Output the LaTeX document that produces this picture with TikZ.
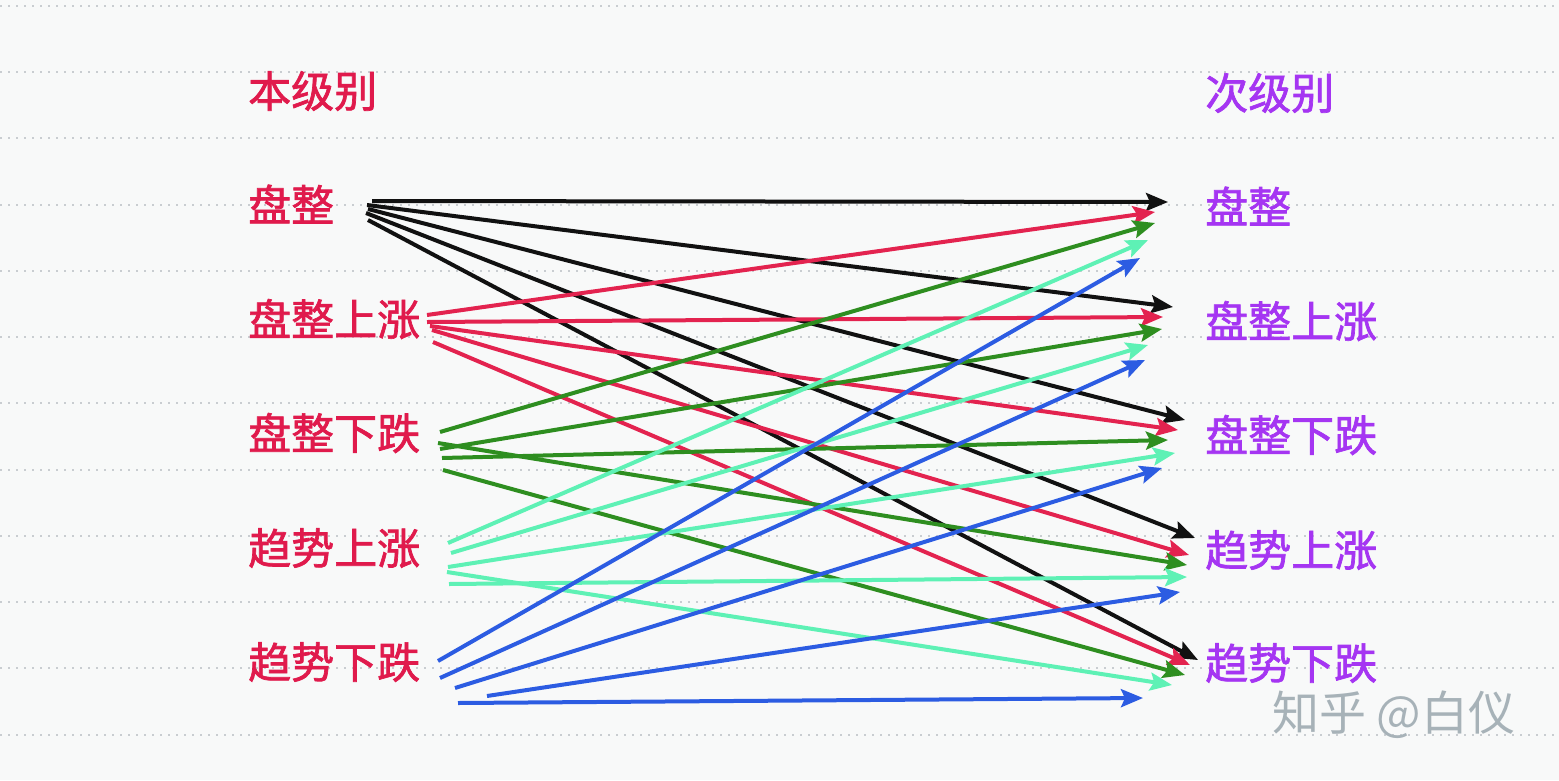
\documentclass[tikz,border=0pt]{standalone}
\usepackage{fontspec}
\setmainfont{Noto Sans CJK SC}
\newfontfamily\lblfont{Noto Sans CJK SC}[FakeBold=1.6]
\usetikzlibrary{arrows.meta}
\definecolor{bgc}{HTML}{F8F9F9}
\definecolor{dotc}{HTML}{C9CDD1}
\definecolor{lred}{HTML}{E01A4C}
\definecolor{lpurple}{HTML}{A535F2}
\definecolor{cblack}{HTML}{111111}
\definecolor{cred}{HTML}{E3234F}
\definecolor{cgreen}{HTML}{2E8E20}
\definecolor{caqua}{HTML}{5EF1B5}
\definecolor{cblue}{HTML}{2C5CE2}
\definecolor{wmark}{HTML}{A7B2B8}
\tikzset{
  lbl/.style={font=\lblfont\fontsize{43}{43}\selectfont, inner sep=0pt, anchor=west},
  leftlbl/.style={lbl, text=lred},
  rightlbl/.style={lbl, text=lpurple},
  conn/.style={line width=4pt, -{Stealth[length=22pt,width=18pt,inset=4pt]}},
  guide/.style={dotc, line width=1.6pt, dash pattern=on 1.6pt off 6.4pt}
}
\begin{document}
\begin{tikzpicture}[x=1pt,y=-1pt]
\fill[bgc] (0,0) rectangle (1559,780);
\useasboundingbox (0,0) rectangle (1559,780);
% dotted guide lines
\foreach \yy in {6,72,138,205,271,337,403,470,536,602,668,735}
  \draw[guide] (0,\yy) -- (1559,\yy);
% headers
\node[leftlbl] (hl) at (248,91) {本级别};
\node[rightlbl] (hr) at (1205,93) {次级别};
% left labels
\node[leftlbl] (l1) at (248,204) {盘整};
\node[leftlbl] (l2) at (248,319) {盘整上涨};
\node[leftlbl] (l3) at (248,433) {盘整下跌};
\node[leftlbl] (l4) at (248,548) {趋势上涨};
\node[leftlbl] (l5) at (248,662) {趋势下跌};
% right labels
\node[rightlbl] (r1) at (1205,206) {盘整};
\node[rightlbl] (r2) at (1205,321) {盘整上涨};
\node[rightlbl] (r3) at (1205,435) {盘整下跌};
\node[rightlbl] (r4) at (1205,550) {趋势上涨};
\node[rightlbl] (r5) at (1205,663) {趋势下跌};
% watermark
\node[font=\fontsize{47}{47}\selectfont, inner sep=0pt, anchor=west, text=wmark] (wm) at (1272,715) {知乎 @白仪};
% connectors
\foreach \sx/\sy/\ex/\ey/\c [count=\i] in {
  372/201/1168/202/cblack,
  367/205/1173/307/cblack,
  368/209/1185/420/cblack,
  366/213/1195/538/cblack,
  368/220/1198/660/cblack,
  427/315/1155/212/cred,
  427/322/1163/317/cred,
  430/326/1178/430/cred,
  432/330/1189/555/cred,
  433/342/1190/665/cred,
  440/432/1155/223/cgreen,
  440/449/1162/329/cgreen,
  442/458/1168/440/cgreen,
  438/443/1187/565/cgreen,
  443/470/1185/675/cgreen,
  448/543/1148/240/caqua,
  451/553/1148/345/caqua,
  448/567/1175/453/caqua,
  449/584/1187/577/caqua,
  447/572/1172/685/caqua,
  438/661/1140/258/cblue,
  440/678/1145/360/cblue,
  455/688/1162/468/cblue,
  487/696/1180/592/cblue,
  458/703/1143/698/cblue}
{
  \coordinate (s\i) at (\sx,\sy);
  \coordinate (e\i) at (\ex,\ey);
  \draw[conn, draw=\c, fill=\c] (s\i) -- (e\i);
}
\end{tikzpicture}
\end{document}
